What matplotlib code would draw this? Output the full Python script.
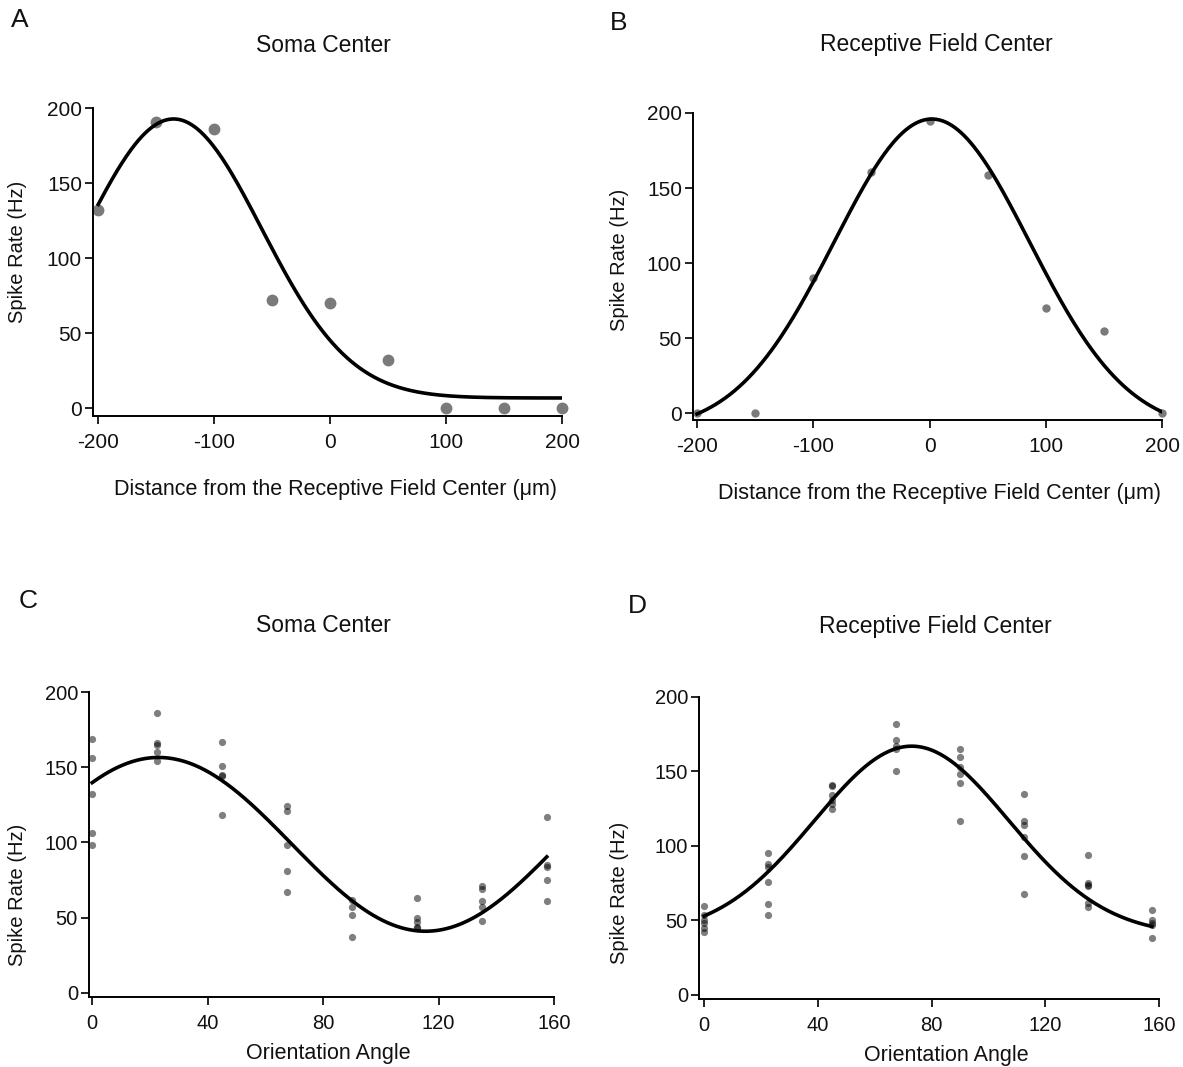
import numpy as np
import matplotlib
matplotlib.use('Agg')
from matplotlib import pyplot as plt
from matplotlib import font_manager

plt.rcParams['font.family'] = ['Liberation Sans', 'DejaVu Sans']
plt.rcParams['axes.unicode_minus'] = False

# distance tuning (panels A, B)
dist = [-200, -150, -100, -50, 0, 50, 100, 150, 200]
rate_soma_dist = [132, 191, 186, 72, 70, 32, 0, 0, 0]
rate_rf_dist = [0, 0, 90, 161, 195, 159, 70, 55, 0]

# gaussian fit params: offset, amplitude, center, sigma
fit_soma_dist = (6.7, 186, -135, 76)
fit_rf_dist = (-12, 208, 2, 84)

# orientation tuning (panels C, D), trials per angle
angles = [0, 22.5, 45, 67.5, 90, 112.5, 135, 157.5]
soma_trials = [
    [169, 156, 132, 106, 98],
    [186, 166, 165, 160, 154],
    [167, 151, 145, 144, 118],
    [124, 121, 98, 81, 67],
    [62, 57, 52, 37],
    [63, 50, 47, 44, 43],
    [71, 69, 61, 57, 48],
    [117, 85, 84, 75, 61],
]
rf_trials = [
    [60, 54, 50, 48, 45, 42],
    [95, 88, 86, 76, 61, 54],
    [141, 140, 134, 131, 128, 125],
    [182, 171, 167, 165, 150],
    [165, 160, 153, 148, 142, 117],
    [135, 117, 114, 106, 93, 68],
    [94, 75, 74, 73, 62, 59],
    [57, 50, 48, 47, 38],
]

# cosine fit for C: base, amplitude, preferred angle, period
fit_soma_ori = (98.75, 57.75, 23, 185)
# gaussian fit for D: offset, amplitude, center, sigma
fit_rf_ori = (40, 127, 73, 34.2)

names = {f.name for f in font_manager.fontManager.ttflist}
narrow = 'Liberation Sans Narrow' if 'Liberation Sans Narrow' in names else 'Liberation Sans'

W, H = 1183, 1067
fig = plt.figure(figsize=(W / 100, H / 100), dpi=100)


def box(l, t, r, b):
    return [l / W, 1 - b / H, (r - l) / W, (b - t) / H]


def gauss(x, p):
    c, a, m, s = p
    return c + a * np.exp(-(x - m) ** 2 / (2 * s ** 2))


def cosfit(x, p):
    b, a, m, T = p
    return b + a * np.cos(2 * np.pi * (x - m) / T)


def style(ax, tickfont, tsize):
    for s in ['top', 'right']:
        ax.spines[s].set_visible(False)
    for s in ['left', 'bottom']:
        ax.spines[s].set_linewidth(1.4)
    ax.tick_params(length=6, width=1.3, pad=2, labelsize=tsize, colors='#111111')
    ax.tick_params(axis='x', pad=6)
    for lab in ax.get_xticklabels() + ax.get_yticklabels():
        lab.set_family(tickfont)
    ax.set_yticks([0, 50, 100, 150, 200])


# A
axA = fig.add_axes(box(93, 108, 562, 416))
xs = np.linspace(-200, 200, 300)
axA.plot(xs, gauss(xs, fit_soma_dist), color='black', lw=2.6, zorder=3)
axA.plot(dist, rate_soma_dist, 'o', color='#7a7a7a', ms=7.5, clip_on=False, zorder=2)
axA.set_xlim(-204.5, 200)
axA.set_ylim(-5.3, 200)
axA.set_xticks([-200, -100, 0, 100, 200])
style(axA, narrow, 15)

# B
axB = fig.add_axes(box(693, 113, 1162, 420))
axB.plot(xs, gauss(xs, fit_rf_dist), color='black', lw=2.6, zorder=3)
axB.plot(dist, rate_rf_dist, 'o', color='#7a7a7a', ms=5, clip_on=False, zorder=2)
axB.set_xlim(-203.5, 200)
axB.set_ylim(-4.5, 200)
axB.set_xticks([-200, -100, 0, 100, 200])
style(axB, narrow, 15)

# C
axC = fig.add_axes(box(89, 692, 554, 997))
xo = np.linspace(0, 157.5, 300)
for a, ys in zip(angles, soma_trials):
    axC.plot([a] * len(ys), ys, 'o', color='black', alpha=0.5, mec='none', ms=5.2, clip_on=False)
axC.plot(xo, cosfit(xo, fit_soma_ori), color='black', lw=2.6, zorder=3)
axC.set_xlim(-1.1, 160)
axC.set_ylim(-2.7, 200)
axC.set_xticks([0, 40, 80, 120, 160])
style(axC, 'Liberation Sans', 14.5)

# D
axD = fig.add_axes(box(699, 697, 1159, 999))
for a, ys in zip(angles, rf_trials):
    axD.plot([a] * len(ys), ys, 'o', color='black', alpha=0.5, mec='none', ms=5.2, clip_on=False)
axD.plot(xo, gauss(xo, fit_rf_ori), color='black', lw=2.6, zorder=3)
axD.set_xlim(-1.8, 160)
axD.set_ylim(-2.7, 200)
axD.set_xticks([0, 40, 80, 120, 160])
style(axD, 'Liberation Sans', 14.5)


def txt(x, y, s, size, rot=0):
    fig.text(x / W, 1 - y / H, s, fontsize=size, rotation=rot,
             ha='center', va='center', color='#111111')


# panel letters
txt(20, 20, 'A', 19)
txt(619, 23, 'B', 19)
txt(28, 601, 'C', 19)
txt(637, 606, 'D', 19)

# titles
txt(323, 45, 'Soma Center', 16.5)
txt(936, 45, 'Receptive Field Center', 16.5)
txt(323, 626, 'Soma Center', 16.5)
txt(935, 626, 'Receptive Field Center', 16.5)

# axis labels
txt(336, 490, 'Distance from the Receptive Field Center (μm)', 15.5)
txt(940, 494, 'Distance from the Receptive Field Center (μm)', 15.5)
txt(328, 1054, 'Orientation Angle', 15.5)
txt(946, 1055, 'Orientation Angle', 15.5)

txt(18, 252, 'Spike Rate (Hz)', 14.5, 90)
txt(620, 260, 'Spike Rate (Hz)', 14.5, 90)
txt(18, 895, 'Spike Rate (Hz)', 14.5, 90)
txt(620, 893, 'Spike Rate (Hz)', 14.5, 90)

fig.savefig('out.png', dpi=100)
